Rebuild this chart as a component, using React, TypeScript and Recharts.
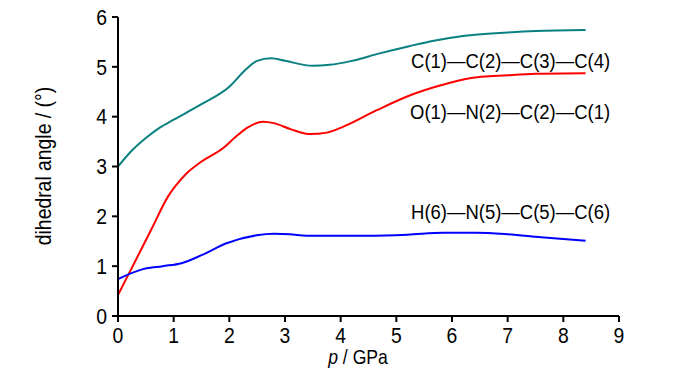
import React from "react";
import { LineChart, Line, XAxis, YAxis, ReferenceDot } from "recharts";

const tealSeries = [
  { p: 0, v: 3.0 }, { p: 0.25, v: 3.32 }, { p: 0.5, v: 3.57 }, { p: 0.75, v: 3.78 },
  { p: 1.0, v: 3.94 }, { p: 1.5, v: 4.25 }, { p: 2.0, v: 4.6 }, { p: 2.3, v: 4.95 },
  { p: 2.5, v: 5.12 }, { p: 2.75, v: 5.17 }, { p: 3.0, v: 5.12 }, { p: 3.5, v: 5.02 },
  { p: 3.8, v: 5.04 }, { p: 4.2, v: 5.12 }, { p: 4.7, v: 5.27 }, { p: 5.25, v: 5.42 },
  { p: 5.7, v: 5.53 }, { p: 6.2, v: 5.62 }, { p: 7.0, v: 5.69 }, { p: 7.5, v: 5.72 },
  { p: 8.4, v: 5.74 },
];

const redSeries = [
  { p: 0, v: 0.42 }, { p: 0.3, v: 1.08 }, { p: 0.6, v: 1.74 }, { p: 0.9, v: 2.4 },
  { p: 1.1, v: 2.7 }, { p: 1.23, v: 2.86 }, { p: 1.5, v: 3.1 }, { p: 1.89, v: 3.37 },
  { p: 2.1, v: 3.58 }, { p: 2.31, v: 3.77 }, { p: 2.61, v: 3.9 }, { p: 2.8, v: 3.87 },
  { p: 3.1, v: 3.75 }, { p: 3.45, v: 3.65 }, { p: 3.75, v: 3.68 }, { p: 4.05, v: 3.8 },
  { p: 4.65, v: 4.13 }, { p: 5.25, v: 4.43 }, { p: 5.8, v: 4.63 }, { p: 6.32, v: 4.77 },
  { p: 7.0, v: 4.83 }, { p: 7.5, v: 4.86 }, { p: 8.4, v: 4.87 },
];

const blueSeries = [
  { p: 0, v: 0.74 }, { p: 0.45, v: 0.94 }, { p: 0.8, v: 1.0 }, { p: 1.14, v: 1.06 },
  { p: 1.5, v: 1.22 }, { p: 1.95, v: 1.46 }, { p: 2.49, v: 1.62 }, { p: 2.8, v: 1.65 },
  { p: 3.09, v: 1.64 }, { p: 3.39, v: 1.61 }, { p: 4.47, v: 1.61 }, { p: 5.2, v: 1.63 },
  { p: 5.84, v: 1.67 }, { p: 6.44, v: 1.67 }, { p: 7.0, v: 1.64 }, { p: 7.6, v: 1.58 },
  { p: 8.4, v: 1.51 },
];

const xTicks = [0, 1, 2, 3, 4, 5, 6, 7, 8, 9];
const yTicks = [0, 1, 2, 3, 4, 5, 6];

const labels = [
  { text: "C(1)\u2014C(2)\u2014C(3)\u2014C(4)", p: 8.84, v: 5.12 },
  { text: "O(1)\u2014N(2)\u2014C(2)\u2014C(1)", p: 8.84, v: 4.11 },
  { text: "H(6)\u2014N(5)\u2014C(5)\u2014C(6)", p: 8.84, v: 2.1 },
];

const FONT = "'Liberation Sans', Arial, sans-serif";
const SQ = 0.88;

const AnnLabel = (props: any) => {
  const { viewBox, value } = props;
  const x = viewBox.x + (viewBox.width || 0) / 2;
  const y = viewBox.y + (viewBox.height || 0) / 2;
  return (
    <text
      x={0}
      y={0}
      transform={`translate(${x},${y}) scale(${SQ},1)`}
      textAnchor="end"
      dominantBaseline="central"
      fontFamily={FONT}
      fontSize={21}
      fill="#000"
    >
      {value}
    </text>
  );
};

const XTick = (props: any) => {
  const { x, y, payload } = props;
  return (
    <text x={0} y={0} dy="0.71em" transform={`translate(${x},${y}) scale(${SQ},1)`} textAnchor="middle" fontFamily={FONT} fontSize={22} fill="#000">
      {payload.value}
    </text>
  );
};

const YTick = (props: any) => {
  const { x, y, payload } = props;
  return (
    <text x={0} y={0} dy="0.355em" transform={`translate(${x},${y}) scale(${SQ},1)`} textAnchor="end" fontFamily={FONT} fontSize={22} fill="#000">
      {payload.value}
    </text>
  );
};

export default function App() {
  return (
    <div style={{ position: "absolute", left: 0, top: 0, background: "#fff" }}>
      <LineChart width={700} height={374} margin={{ top: 17, right: 81, bottom: 0, left: 0 }}>
        <XAxis
          xAxisId="b"
          dataKey="p"
          type="number"
          domain={[0, 9]}
          ticks={xTicks}
          height={58}
          axisLine={{ stroke: "#000", strokeWidth: 2 }}
          tickLine={{ stroke: "#000", strokeWidth: 2 }}
          tickSize={6}
          tickMargin={5}
          tick={<XTick />}
          allowDataOverflow
        />
        <XAxis
          xAxisId="t"
          orientation="top"
          dataKey="p"
          type="number"
          domain={[0, 9]}
          height={0}
          tick={false}
          tickLine={false}
          axisLine={{ stroke: "#000", strokeWidth: 2 }}
        />
        <YAxis
          yAxisId="l"
          type="number"
          domain={[0, 6]}
          ticks={yTicks}
          width={118}
          axisLine={{ stroke: "#000", strokeWidth: 2 }}
          tickLine={{ stroke: "#000", strokeWidth: 2 }}
          tickSize={6}
          tickMargin={5}
          tick={<YTick />}
        />
        <YAxis
          yAxisId="r"
          orientation="right"
          type="number"
          domain={[0, 6]}
          width={0}
          tick={false}
          tickLine={false}
          axisLine={{ stroke: "#000", strokeWidth: 2 }}
        />
        <Line xAxisId="b" yAxisId="l" data={tealSeries} dataKey="v" type="monotone" stroke="#0a8080" strokeWidth={2} dot={false} isAnimationActive={false} />
        <Line xAxisId="b" yAxisId="l" data={redSeries} dataKey="v" type="monotone" stroke="#ff0000" strokeWidth={2} dot={false} isAnimationActive={false} />
        <Line xAxisId="b" yAxisId="l" data={blueSeries} dataKey="v" type="monotone" stroke="#0000ff" strokeWidth={2} dot={false} isAnimationActive={false} />
        {labels.map((l) => (
          <ReferenceDot key={l.text} xAxisId="b" yAxisId="l" x={l.p} y={l.v} r={0} fill="none" stroke="none" ifOverflow="visible" label={<AnnLabel value={l.text} />} />
        ))}
        <text
          x={0}
          y={0}
          transform={`translate(43,166) rotate(-90) scale(${SQ},1)`}
          textAnchor="middle"
          dominantBaseline="central"
          fontFamily={FONT}
          fontSize={22}
          fill="#000"
        >
          dihedral angle / (°)
        </text>
        <text
          x={0}
          y={0}
          transform={`translate(358,357) scale(${SQ},1)`}
          textAnchor="middle"
          dominantBaseline="central"
          fontFamily={FONT}
          fontSize={20}
          fill="#000"
        >
          <tspan fontStyle="italic">p</tspan> / GPa
        </text>
      </LineChart>
    </div>
  );
}
